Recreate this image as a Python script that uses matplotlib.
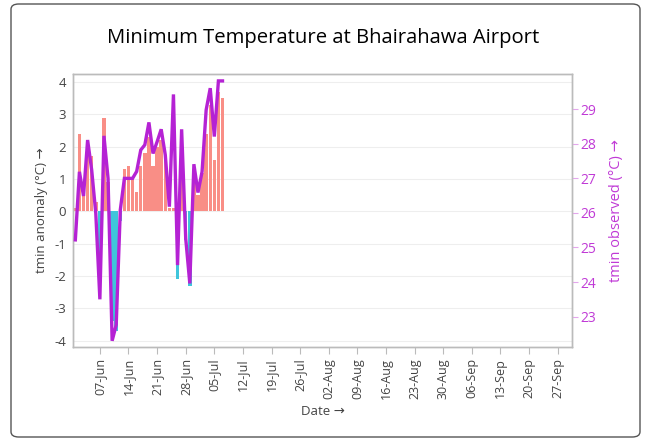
import matplotlib
matplotlib.use("Agg")
import matplotlib.pyplot as plt
import matplotlib.dates as mdates
from matplotlib.patches import FancyBboxPatch
import numpy as np
import datetime as dt

plt.rcParams['font.family'] = ['Open Sans', 'DejaVu Sans']

# ---- data ----
start_date = "2023-06-01"
anomaly = [0.1, 2.4, 0.5, 2.2, 1.7, 0.3, -1.6, 2.9, 0.9, -3.4,
           -3.7, -0.3, 1.3, 1.4, 1.0, 0.6, 1.4, 1.8, 2.3, 1.4,
           2.0, 2.2, 1.6, 0.1, 0.1, -2.1, 2.2, -0.9, -2.3, 1.3,
           0.5, 1.2, 2.4, 3.3, 1.6, 3.7, 3.5]
observed = [25.22, 27.19, 26.49, 28.11, 27.24, 25.99, 23.5, 28.23, 27.0, 22.3,
            22.76, 26.09, 27.0, 27.0, 27.0, 27.2, 27.82, 27.97, 28.62, 27.72,
            28.06, 28.42, 27.68, 26.18, 29.43, 24.49, 28.42, 25.26, 23.96, 27.41,
            26.59, 27.19, 28.98, 29.61, 28.21, 29.82, 29.82]
tick_labels = ["07-Jun", "14-Jun", "21-Jun", "28-Jun", "05-Jul", "12-Jul", "19-Jul",
               "26-Jul", "02-Aug", "09-Aug", "16-Aug", "23-Aug", "30-Aug", "06-Sep",
               "13-Sep", "20-Sep", "27-Sep"]
title = "Minimum Temperature at Bhairahawa Airport"

d0 = dt.datetime.strptime(start_date, "%Y-%m-%d")
dates = [d0 + dt.timedelta(days=i) for i in range(len(anomaly))]
xd = mdates.date2num(dates)
ticks = [mdates.date2num(dt.datetime(2023, 6, 7) + dt.timedelta(days=7 * k)) for k in range(len(tick_labels))]

pos_color = '#F98E86'
neg_color = '#3FC5DB'
line_color = '#B522D4'
right_color = '#C03AD6'
text_color = '#444444'

fig = plt.figure(figsize=(6.46, 4.41), dpi=100)
# outer rounded frame
frame = FancyBboxPatch((11 / 646, 4 / 441), (640 - 11) / 646, (437 - 4) / 441,
                       boxstyle="round,pad=0,rounding_size=0.012",
                       transform=fig.transFigure, facecolor='none',
                       edgecolor='#555555', linewidth=1.0, zorder=-1)
fig.patches.append(frame)

ax = fig.add_axes([73.3 / 646, 1 - 347 / 441, (572 - 73.3) / 646, (347 - 74) / 441])
ax.set_facecolor('none')
colors = [pos_color if v >= 0 else neg_color for v in anomaly]
ax.bar(xd, anomaly, width=0.85, color=colors, linewidth=0, zorder=2)

ax.set_xlim(mdates.date2num(dt.datetime(2023, 5, 31, 12)), mdates.date2num(dt.datetime(2023, 9, 30, 12)))
ax.set_ylim(-4.195, 4.247)
ax.set_yticks([-4, -3, -2, -1, 0, 1, 2, 3, 4])
ax.set_yticklabels(["-4", "-3", "-2", "-1", "0", "1", "2", "3", "4"])
ax.yaxis.grid(True, color='#EEEEEE', linewidth=0.8, zorder=0)
ax.set_axisbelow(True)
ax.set_xticks(ticks)
ax.set_xticklabels(tick_labels, rotation=90)
ax.tick_params(axis='x', colors='#BBBBBB', labelcolor=text_color, labelsize=9, length=5, width=0.8, pad=3)
ax.tick_params(axis='y', length=0, labelcolor=text_color, labelsize=9.5, pad=5)
for s in ax.spines.values():
    s.set_color('#BBBBBB')
    s.set_linewidth(1.0)
ax.set_ylabel("tmin anomaly (°C) →", color=text_color, fontsize=9.5, labelpad=5)
ax.set_xlabel("Date →", color=text_color, fontsize=9.5, labelpad=4)

ax2 = ax.twinx()
ax2.plot(xd, observed, color=line_color, linewidth=2.4, solid_joinstyle='miter', zorder=3)
ax2.set_ylim(22.12, 30.02)
ax2.set_yticks([23, 24, 25, 26, 27, 28, 29])
ax2.tick_params(axis='y', colors='#E3A6EC', labelcolor=right_color, labelsize=10, length=4, width=0.8, pad=2)
for s in ax2.spines.values():
    s.set_color('#BBBBBB')
    s.set_linewidth(1.0)
ax2.set_ylabel("tmin observed (°C) →", color=right_color, fontsize=10.5, labelpad=9)

fig.text(0.5, 1 - 38 / 441, title, ha='center', va='center', fontsize=14.6,
         fontweight='medium', color='#000000')

fig.savefig("out.png", dpi=100)
